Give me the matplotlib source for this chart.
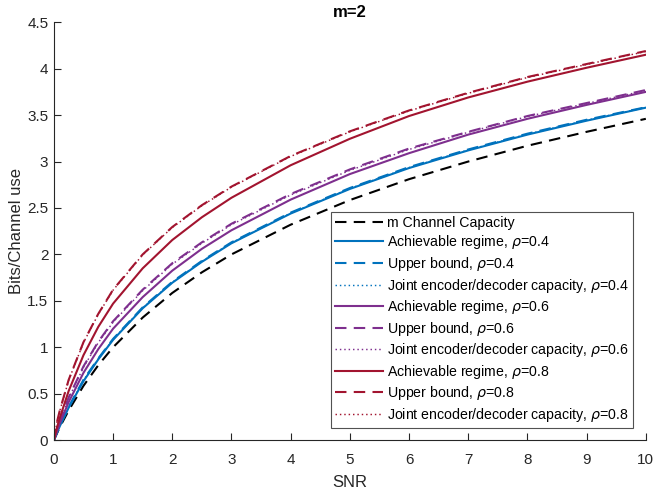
import numpy as np
import matplotlib
matplotlib.use("Agg")
import matplotlib.pyplot as plt

# =========================
# datos
# =========================
snr = [0, 0.05, 0.1, 0.25, 0.5, 0.75, 1, 1.5, 2, 2.5, 3, 4, 5, 6, 7, 8, 9, 10]

cap = [0, 0.07, 0.14, 0.32, 0.585, 0.807, 1.0, 1.32, 1.585, 1.807, 2.0, 2.32, 2.585, 2.81, 3.0, 3.17, 3.32, 3.46]

ach_04 = [0, 0.075, 0.15, 0.35, 0.635, 0.87, 1.08, 1.42, 1.695, 1.92, 2.12, 2.44, 2.705, 2.93, 3.12, 3.29, 3.44, 3.58]
ub_04 = [0, 0.08, 0.16, 0.36, 0.65, 0.88, 1.09, 1.43, 1.705, 1.93, 2.13, 2.45, 2.715, 2.94, 3.13, 3.30, 3.45, 3.585]
jc_04 = [0, 0.078, 0.155, 0.355, 0.645, 0.875, 1.085, 1.425, 1.70, 1.925, 2.125, 2.445, 2.71, 2.935, 3.125, 3.295, 3.445, 3.583]

ach_06 = [0, 0.09, 0.18, 0.41, 0.725, 0.98, 1.20, 1.54, 1.825, 2.06, 2.26, 2.59, 2.865, 3.09, 3.29, 3.46, 3.61, 3.75]
ub_06 = [0, 0.11, 0.21, 0.46, 0.795, 1.06, 1.28, 1.62, 1.905, 2.13, 2.33, 2.65, 2.915, 3.14, 3.32, 3.49, 3.63, 3.77]
jc_06 = [0, 0.105, 0.20, 0.45, 0.785, 1.05, 1.27, 1.61, 1.895, 2.12, 2.32, 2.64, 2.905, 3.13, 3.315, 3.485, 3.625, 3.765]

ach_08 = [0, 0.13, 0.24, 0.53, 0.915, 1.22, 1.47, 1.85, 2.155, 2.40, 2.61, 2.96, 3.245, 3.49, 3.69, 3.86, 4.01, 4.15]
ub_08 = [0, 0.19, 0.32, 0.65, 1.055, 1.36, 1.62, 2.00, 2.295, 2.53, 2.73, 3.06, 3.325, 3.55, 3.74, 3.91, 4.05, 4.19]
jc_08 = [0, 0.185, 0.315, 0.645, 1.05, 1.355, 1.615, 1.995, 2.29, 2.525, 2.725, 3.055, 3.32, 3.545, 3.735, 3.905, 4.045, 4.185]

rhos = ["0.4", "0.6", "0.8"]

# colores por defecto de MATLAB
c_blue = "#0072BD"
c_purple = "#7E2F8E"
c_red = "#A2142F"

plt.rcParams['font.family'] = ['Liberation Sans', 'DejaVu Sans']
plt.rcParams['mathtext.fontset'] = 'dejavusans'

fig = plt.figure(figsize=(6.57, 4.94), dpi=100)
ax = fig.add_axes([0.082, 0.109, 0.901, 0.846])

lw = 1.5
dash = (0, (5.5, 3.5))
ax.plot(snr, cap, color='k', ls=dash, lw=lw, label='m Channel Capacity')

series = [
    (ach_04, ub_04, jc_04, c_blue, rhos[0]),
    (ach_06, ub_06, jc_06, c_purple, rhos[1]),
    (ach_08, ub_08, jc_08, c_red, rhos[2]),
]
for ach, ub, jc, col, r in series:
    ax.plot(snr, ach, color=col, ls='-', lw=lw, label=r'Achievable regime, $\rho$=' + r)
    ax.plot(snr, ub, color=col, ls=dash, lw=lw, label=r'Upper bound, $\rho$=' + r)
    ax.plot(snr, jc, color=col, ls=(0, (1, 2)), lw=lw * 0.7,
            label=r'Joint encoder/decoder capacity, $\rho$=' + r)

ax.set_xlim(0, 10)
ax.set_ylim(0, 4.5)
ax.set_xticks(np.arange(0, 11, 1))
ax.set_yticks(np.arange(0, 4.51, 0.5))
ax.set_yticklabels(['0', '0.5', '1', '1.5', '2', '2.5', '3', '3.5', '4', '4.5'])

ax.spines['top'].set_visible(False)
ax.spines['right'].set_visible(False)
for s in ['left', 'bottom']:
    ax.spines[s].set_color('#262626')
    ax.spines[s].set_linewidth(0.8)
ax.tick_params(direction='in', length=5, width=0.8, colors='#262626', labelsize=11)
ax.tick_params(axis='x', pad=9)
ax.tick_params(axis='y', pad=4)

ax.set_xlabel('SNR', fontsize=12, color='#262626', labelpad=6)
ax.set_ylabel('Bits/Channel use', fontsize=12, color='#262626', labelpad=2)
ax.set_title('m=2', fontsize=12, fontweight='bold', pad=4)

leg = ax.legend(loc='lower right', bbox_to_anchor=(0.978, 0.029), borderaxespad=0,
                fontsize=10.2, frameon=True, fancybox=False, handlelength=3.4,
                handletextpad=0.25, labelspacing=0.25, borderpad=0.3)
leg.get_frame().set_edgecolor('#262626')
leg.get_frame().set_linewidth(0.8)

fig.savefig('out.png', dpi=100)
